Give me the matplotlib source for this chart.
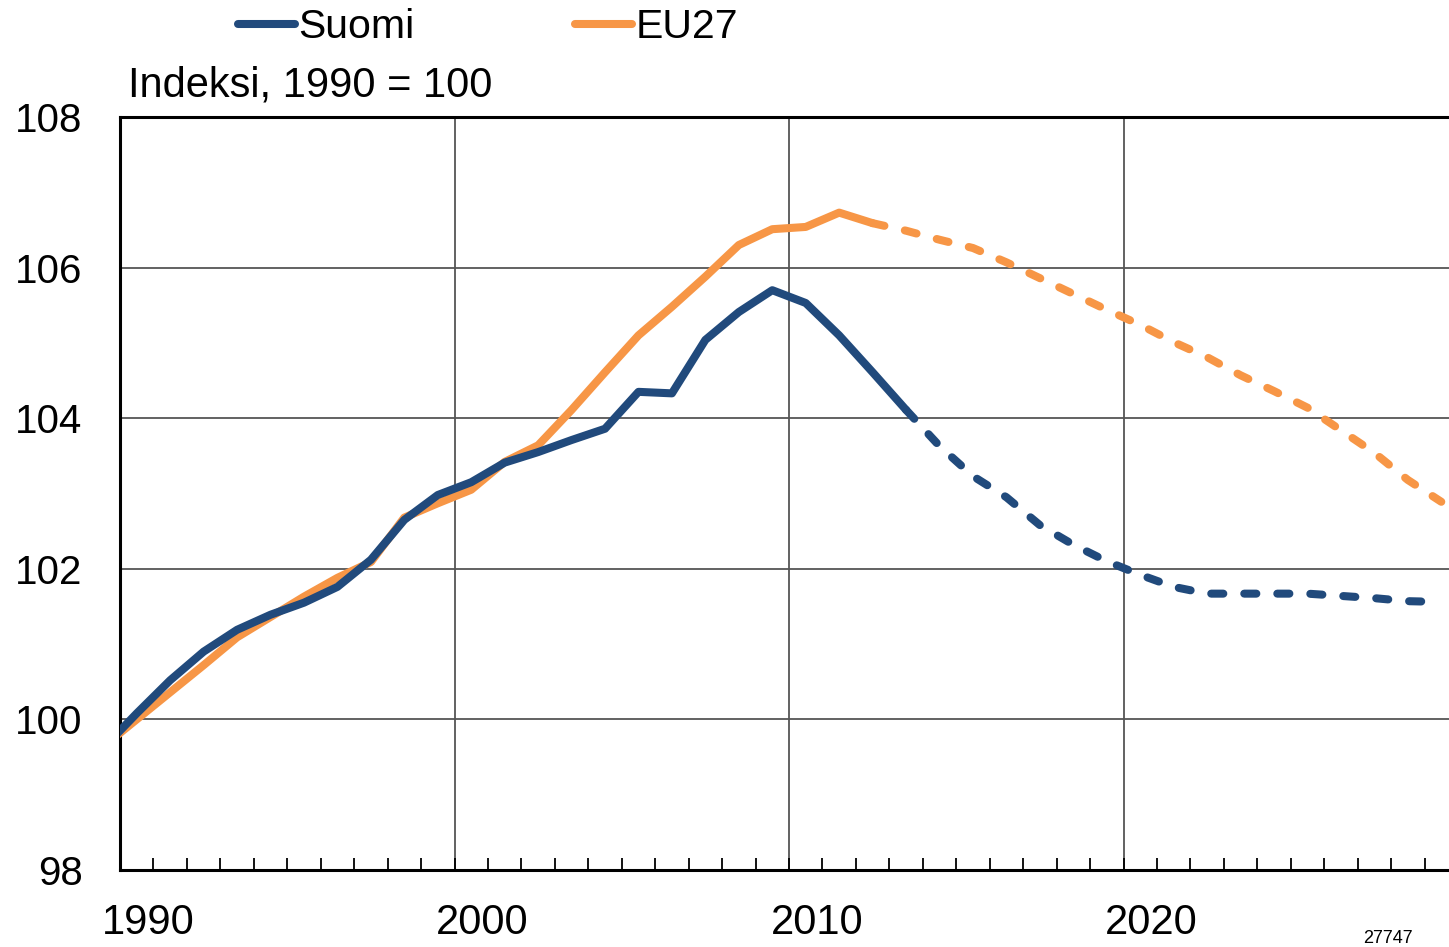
import matplotlib.pyplot as plt
import numpy as np
from matplotlib.transforms import ScaledTranslation

plt.rcParams['font.family'] = ['Liberation Sans', 'DejaVu Sans']

# annual index, 1990 = 100 (values after the last actual year are projections)
years = np.arange(1989, 2030)
suomi = [99.62, 100.08, 100.52, 100.90, 101.19, 101.39, 101.55, 101.76, 102.12, 102.65,
         102.98, 103.15, 103.41, 103.55, 103.71, 103.86, 104.35, 104.33, 105.04, 105.41,
         105.70, 105.53, 105.10, 104.61, 104.11, 103.63, 103.23, 102.95, 102.58, 102.32,
         102.10, 101.92, 101.76, 101.67, 101.67, 101.67, 101.67, 101.64, 101.61, 101.57,
         101.56]
eu27 = [99.64, 100.0, 100.36, 100.72, 101.09, 101.36, 101.63, 101.88, 102.09, 102.68,
        102.87, 103.05, 103.42, 103.64, 104.11, 104.61, 105.10, 105.48, 105.88, 106.30,
        106.51, 106.54, 106.73, 106.59, 106.49, 106.37, 106.26, 106.07, 105.86, 105.65,
        105.44, 105.24, 105.01, 104.81, 104.57, 104.36, 104.14, 103.84, 103.54, 103.18,
        102.89]
suomi_last_actual = 2013
eu27_last_actual = 2012

blue = '#214a7c'
orange = '#f79646'

fig = plt.figure(figsize=(14.49, 9.47), dpi=100)
ax = fig.add_axes([120 / 1449, 1 - 870 / 947, 1338 / 1449, 753 / 947])

x = years + 0.5  # values plotted in the middle of each year
suomi = np.array(suomi)
eu27 = np.array(eu27)
lw = 5.8

for vals, last, col, name in [(eu27, eu27_last_actual, orange, 'EU27'),
                              (suomi, suomi_last_actual, blue, 'Suomi')]:
    act = years <= last
    proj = years >= last
    ax.plot(x[act], vals[act], color=col, lw=lw, solid_capstyle='round',
            solid_joinstyle='round', label=name, zorder=3)
    ax.plot(x[proj], vals[proj], color=col, lw=lw, dashes=(1.5, 2.6),
            dash_capstyle='round', zorder=3)

ax.set_xlim(1990, 2030)
ax.set_ylim(98, 108)
ax.set_yticks(np.arange(98, 109, 2))
ax.set_xticks(np.arange(1990, 2030, 10))
ax.set_xticks(np.arange(1990, 2031, 1), minor=True)

ax.grid(True, which='major', color='#555555', lw=1.3, zorder=1)
ax.tick_params(axis='y', length=0, pad=27, labelsize=29)
ax.tick_params(axis='x', which='both', direction='in', length=9, width=1.3,
               pad=24, labelsize=30)
for lbl in ax.get_xticklabels():
    lbl.set_transform(lbl.get_transform() + ScaledTranslation(0.28, 0, fig.dpi_scale_trans))

for side in ['left', 'bottom', 'top']:
    ax.spines[side].set_linewidth(2.2)
ax.spines['right'].set_visible(False)

fig.text(128 / 1449, 1 - 86 / 947, 'Indeksi, 1990 = 100', fontsize=30,
         ha='left', va='center')

h, l = ax.get_legend_handles_labels()
order = [l.index('Suomi'), l.index('EU27')]
fig.legend([h[i] for i in order], [l[i] for i in order], ncol=2, frameon=False,
           loc='upper left', bbox_to_anchor=(238 / 1449, 1 - 8 / 947),
           fontsize=29.5, handlelength=1.4, handletextpad=0.08, columnspacing=3.9,
           borderpad=0, borderaxespad=0)

fig.text(1388 / 1449, 1 - 938 / 947, '27747', fontsize=13, ha='center', va='center')

fig.savefig('out.png', dpi=100)
